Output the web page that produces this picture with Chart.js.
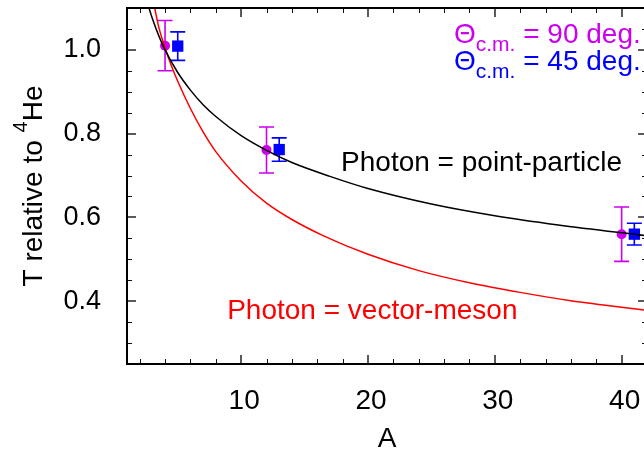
<!DOCTYPE html>
<html>
<head>
<meta charset="utf-8">
<script src="https://cdn.jsdelivr.net/npm/chart.js@4/dist/chart.umd.min.js"></script>
<style>
  html, body { margin: 0; padding: 0; background: #fff; width: 644px; height: 452px; overflow: hidden; }
  #wrap { position: absolute; left: 0; top: 0; width: 660px; height: 452px; }
</style>
</head>
<body>
<div id="wrap"><canvas id="c" width="660" height="452"></canvas></div>
<script>
// Measured transparency ratios, Θc.m. = 90 deg.
const massNumber90 = [4, 12, 40];
const ratio90 = [1.01, 0.761, 0.56];
const err90 = [0.06, 0.055, 0.065];

// Measured transparency ratios, Θc.m. = 45 deg.
const massNumber45 = [5, 13, 41];
const ratio45 = [1.009, 0.762, 0.56];
const err45 = [0.034, 0.028, 0.026];

// Calculation: photon as a point particle
const pointA = [2.7, 3, 3.5, 4, 5, 6, 7, 8, 10, 12, 14, 17, 20, 25, 30, 35, 42];
const pointT = [1.103, 1.075, 1.034, 1.0, 0.946, 0.904, 0.869, 0.841, 0.795, 0.760, 0.731, 0.698, 0.669, 0.632, 0.604, 0.582, 0.556];

// Calculation: photon as a vector meson
const vectorA = [3.15, 3.5, 4, 4.5, 5, 6, 7, 8, 10, 12, 14, 16.5, 20, 24, 28, 32, 36, 42];
const vectorT = [1.105, 1.055, 1.005, 0.962, 0.925, 0.860, 0.804, 0.757, 0.687, 0.634, 0.595, 0.556, 0.512, 0.473, 0.444, 0.421, 0.401, 0.378];

// Axis labels
const xTickValues = [10, 20, 30, 40];
const xTickLabels = ['10', '20', '30', '40'];
const yTickValues = [0.4, 0.6, 0.8, 1.0];
const yTickLabels = ['0.4', '0.6', '0.8', '1.0'];

const MAGENTA = '#cc00ee';
const BLUE = '#0000ff';
const FONT = '"Liberation Sans", Arial, Helvetica, sans-serif';

const toXY = (xs, ys) => xs.map((x, i) => ({ x, y: ys[i] }));

// Vertical error bars with caps, drawn just before each marker set
const errorBars = {
  id: 'errorBars',
  beforeDatasetDraw(chart, args) {
    const ds = chart.data.datasets[args.index];
    if (!ds.errors) return;
    const { ctx, scales: { x, y } } = chart;
    ctx.save();
    ctx.strokeStyle = ds.backgroundColor;
    ctx.lineWidth = 1.6;
    ds.data.forEach((p, i) => {
      const px = x.getPixelForValue(p.x);
      const top = y.getPixelForValue(p.y + ds.errors[i]);
      const bot = y.getPixelForValue(p.y - ds.errors[i]);
      ctx.beginPath();
      ctx.moveTo(px, top); ctx.lineTo(px, bot);
      ctx.moveTo(px - 7.5, top); ctx.lineTo(px + 7.5, top);
      ctx.moveTo(px - 7.5, bot); ctx.lineTo(px + 7.5, bot);
      ctx.stroke();
    });
    ctx.restore();
  }
};

// Closed frame with inward major/minor ticks on all four sides
const frame = {
  id: 'frame',
  afterDraw(chart) {
    const { ctx, chartArea: a, scales: { x, y } } = chart;
    ctx.save();
    const tick = (major, draw) => {
      ctx.strokeStyle = major ? '#5a5a5a' : '#111';
      ctx.lineWidth = major ? 2 : 1;
      ctx.beginPath(); draw(major ? 0 : 0.5, major ? 9 : 5); ctx.stroke();
    };
    for (let v = 2; v <= 42; v += 2) {
      const px = Math.round(x.getPixelForValue(v));
      tick(v % 10 === 0, (o, len) => {
        ctx.moveTo(px + o, a.bottom); ctx.lineTo(px + o, a.bottom - len);
        ctx.moveTo(px + o, a.top); ctx.lineTo(px + o, a.top + len);
      });
    }
    for (let k = 6; k <= 21; k++) {
      const py = Math.round(y.getPixelForValue(k * 0.05));
      tick(k % 4 === 0, (o, len) => {
        ctx.moveTo(a.left, py + o); ctx.lineTo(a.left + len, py + o);
        ctx.moveTo(a.right, py + o); ctx.lineTo(a.right - len, py + o);
      });
    }
    ctx.strokeStyle = '#000';
    ctx.lineWidth = 2;
    ctx.strokeRect(a.left, a.top, a.right - a.left, a.bottom - a.top);
    ctx.restore();
  }
};

// Axis titles, curve captions and the angle key
const captions = {
  id: 'captions',
  afterDraw(chart) {
    const { ctx, chartArea: a, scales: { x, y } } = chart;
    ctx.save();
    ctx.textBaseline = 'alphabetic';
    ctx.textAlign = 'left';

    // y title with superscript mass number
    const main = '28px ' + FONT, sup = '20px ' + FONT;
    ctx.font = main; const w1 = ctx.measureText('T relative to ').width;
    const w3 = ctx.measureText('He').width;
    ctx.font = sup; const w2 = ctx.measureText('4').width;
    const total = w1 + w2 + w3;
    ctx.translate(41.5, (a.top + a.bottom) / 2);
    ctx.rotate(-Math.PI / 2);
    ctx.fillStyle = '#000';
    ctx.font = main; ctx.fillText('T relative to ', -total / 2, 0);
    ctx.font = sup; ctx.fillText('4', -total / 2 + w1, -15);
    ctx.font = main; ctx.fillText('He', -total / 2 + w1 + w2, 0);
    ctx.setTransform(1, 0, 0, 1, 0, 0);

    // x title
    ctx.font = main;
    ctx.textAlign = 'center';
    ctx.fillText('A', (a.left + a.right) / 2, 447);
    ctx.textAlign = 'left';

    // curve captions
    ctx.fillStyle = '#000';
    ctx.fillText('Photon = point-particle', x.getPixelForValue(17.88), y.getPixelForValue(0.712));
    ctx.fillStyle = '#ff0000';
    ctx.fillText('Photon = vector-meson', x.getPixelForValue(8.9), y.getPixelForValue(0.358));

    // angle key
    const key = (color, value, base) => {
      let px = x.getPixelForValue(26.78);
      const py = y.getPixelForValue(base);
      ctx.fillStyle = color;
      ctx.font = main; ctx.fillText('Θ', px, py); px += ctx.measureText('Θ').width;
      ctx.font = '21px ' + FONT; ctx.fillText('c.m.', px, py + 8); px += ctx.measureText('c.m.').width;
      ctx.font = main; ctx.fillText(' = ' + value + ' deg.', px, py);
    };
    key(MAGENTA, '90', 1.016);
    key(BLUE, '45', 0.952);
    ctx.restore();
  }
};

Chart.defaults.font.family = FONT;
Chart.defaults.color = '#000';

new Chart(document.getElementById('c'), {
  type: 'scatter',
  data: {
    datasets: [
      {
        label: 'Photon = point-particle',
        data: toXY(pointA, pointT),
        showLine: true, borderColor: '#000', borderWidth: 1.5,
        pointRadius: 0, cubicInterpolationMode: 'monotone'
      },
      {
        label: 'Photon = vector-meson',
        data: toXY(vectorA, vectorT),
        showLine: true, borderColor: '#ff0000', borderWidth: 1.5,
        pointRadius: 0, cubicInterpolationMode: 'monotone'
      },
      {
        label: 'Θc.m. = 90 deg.',
        data: toXY(massNumber90, ratio90), errors: err90,
        backgroundColor: MAGENTA, borderColor: MAGENTA,
        pointStyle: 'circle', pointRadius: 5, pointBorderWidth: 0
      },
      {
        label: 'Θc.m. = 45 deg.',
        data: toXY(massNumber45, ratio45), errors: err45,
        backgroundColor: BLUE, borderColor: BLUE,
        pointStyle: 'rect', pointRadius: 8, pointBorderWidth: 0
      }
    ]
  },
  options: {
    responsive: false,
    animation: false,
    devicePixelRatio: 1,
    layout: { padding: { left: 0, top: 4, right: 13, bottom: 0 } },
    plugins: { legend: { display: false }, tooltip: { enabled: false } },
    scales: {
      x: {
        type: 'linear', min: 1, max: 42,
        grid: { display: false }, border: { display: false },
        afterBuildTicks: s => { s.ticks = xTickValues.map(v => ({ value: v })); },
        afterFit: s => { s.height = 88; s.paddingLeft = 0; s.paddingRight = 0; },
        ticks: {
          font: { size: 28 }, padding: 12, labelOffset: 3, maxRotation: 0, autoSkip: false,
          callback: (v, i) => xTickLabels[i]
        }
      },
      y: {
        type: 'linear', min: 0.25, max: 1.1,
        grid: { display: false }, border: { display: false },
        afterBuildTicks: s => { s.ticks = yTickValues.map(v => ({ value: v })); },
        afterFit: s => { s.width = 127; s.paddingTop = 0; s.paddingBottom = 0; },
        ticks: {
          font: { size: 27 }, padding: 18, autoSkip: false,
          callback: (v, i) => yTickLabels[i]
        }
      }
    }
  },
  plugins: [errorBars, frame, captions]
});
</script>
</body>
</html>
